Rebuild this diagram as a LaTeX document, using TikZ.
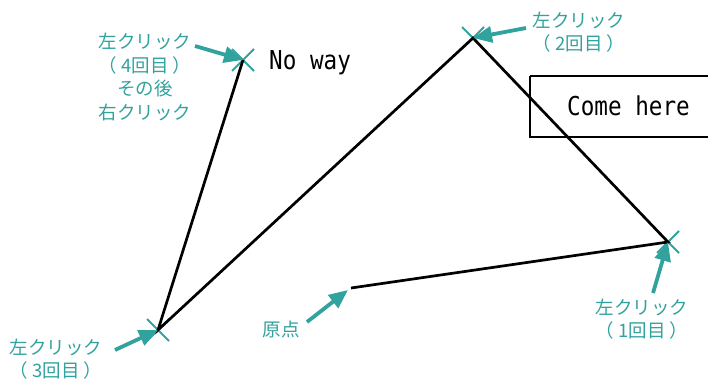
\documentclass[tikz,border=0pt]{standalone}
\usepackage{fontspec}
\newfontfamily\jp{Noto Sans CJK JP}
\newfontfamily\mono{DejaVu Sans Mono}
\usetikzlibrary{arrows.meta}
\definecolor{tealc}{RGB}{50,162,158}
\newcommand{\monotext}[1]{\scalebox{0.87}[1]{\mono\fontsize{26}{28}\selectfont #1}}
\newcommand{\fp}[1]{（\kern0.22em#1\kern0.22em）}
\begin{document}
\begin{tikzpicture}[x=1pt,y=-1pt,
  lbl/.style={text=tealc, font=\jp\fontsize{18.5}{23.5}\selectfont, align=center, inner sep=0pt},
  callout/.style={tealc, line width=3.8pt, -{Triangle[length=19pt,width=16pt]}},
  route/.style={line width=2.7pt, black, line join=miter},
  xmark/.style={tealc, line width=2pt},
  boxed/.style={draw, line width=2.7pt, black},
  plain/.style={inner sep=0pt, anchor=west}
]
\useasboundingbox (0,0) rectangle (708,380);
% click points
\coordinate (o) at (351,288);
\coordinate (c1) at (668,242);
\coordinate (c2) at (473,38);
\coordinate (c3) at (158,330);
\coordinate (c4) at (243,60);
% x marks
\foreach \p in {c1,c2,c3,c4}{
  \draw[xmark] (\p) ++(-11,-11) -- ++(22,22) (\p) ++(-11,11) -- ++(22,-22);
}
% route
\draw[route] (o) -- (c1) -- (c2) -- (c3) -- (c4);
% box
\draw[boxed] (530,76) -- (712,76) (530,76) -- (530,137) -- (712,137);
\node[plain] (come) at (567,106) {\monotext{Come here}};
\node[plain] (noway) at (269,63) {\monotext{No way}};
% labels
\node[lbl] (l4) at (145,77) {左クリック\\\fp{4回目}\\その後\\右クリック};
\node[lbl] (l2) at (579,32) {左クリック\\\fp{2回目}};
\node[lbl] (l3) at (56,359) {左クリック\\\fp{3回目}};
\node[lbl] (l1) at (642,319) {左クリック\\\fp{1回目}};
\node[lbl] (lo) at (281,329) {原点};
% callout arrows
\coordinate (t4) at (195,46);
\coordinate (t2) at (526,28);
\coordinate (t3) at (115,350);
\coordinate (to) at (307,322);
\coordinate (t1) at (653,293);
\coordinate (oe) at (348,290);
\draw[callout] (t4) -- (c4);
\draw[callout] (t2) -- (c2);
\draw[callout] (t3) -- (c3);
\draw[callout] (to) -- (oe);
\draw[callout] (t1) -- (c1);
\end{tikzpicture}
\end{document}
